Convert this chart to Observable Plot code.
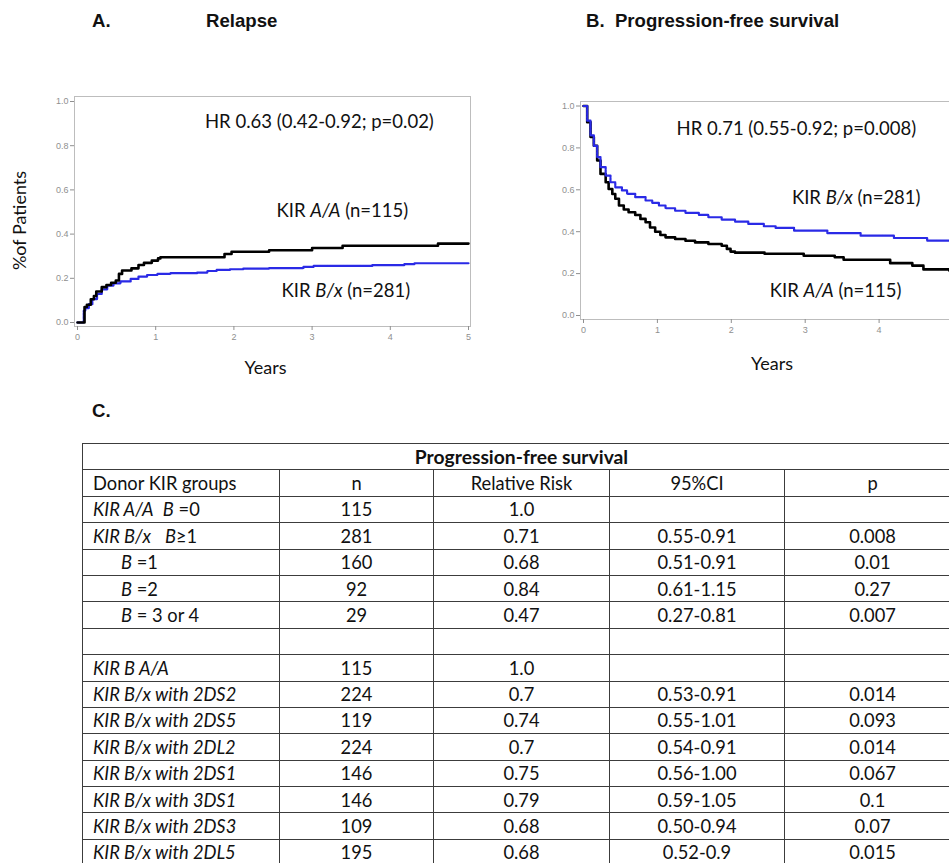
<!DOCTYPE html>
<html>
<head>
<meta charset="utf-8">
<script src="https://cdn.jsdelivr.net/npm/d3@7"></script>
<script src="https://cdn.jsdelivr.net/npm/@observablehq/plot@0.6"></script>
<style>
  html, body { margin: 0; padding: 0; background: #fff; }
  #fig { position: relative; width: 949px; height: 863px; overflow: hidden; background: #fff; }
  .ttl { position: absolute; font-family: "Liberation Sans", Arial, sans-serif; font-weight: bold; font-size: 18.6px; line-height: 18px; color: #111; white-space: pre; }
  .panel { position: absolute; top: 0; width: 480px; }
  table.kir { position: absolute; left: 82px; top: 443px; width: 878px; border-collapse: collapse; table-layout: fixed;
    font-family: Lato, "Open Sans", sans-serif; font-size: 18.3px; color: #111; }
  table.kir td { border: 1.5px solid #3c3c3c; height: 26.4px; padding: 0 10px; box-sizing: border-box; text-align: center; white-space: pre; line-height: 1; }
  table.kir td.first { text-align: left; }
  table.kir td.indent { padding-left: 38px; }
  table.kir td.title { font-weight: bold; font-size: 19.3px; }
</style>
</head>
<body>
<div id="fig">
  <div class="ttl" style="left:92px; top:11.5px;">A.</div>
  <div class="ttl" style="left:206px; top:11.5px;">Relapse</div>
  <div class="ttl" style="left:586px; top:11.5px;">B.  Progression-free survival</div>
  <div class="ttl" style="left:92px; top:402px;">C.</div>
  <div id="panelA" class="panel" style="left:0px;"></div>
  <div id="panelB" class="panel" style="left:480px;"></div>
</div>
<script>
// ---------- Panel A: cumulative incidence of relapse (years, proportion) ----------
const relapseAA = [[0,0],[0.07,0],[0.09,0.07],[0.12,0.08],[0.17,0.105],[0.21,0.12],[0.24,0.14],[0.31,0.16],[0.37,0.17],[0.43,0.18],[0.49,0.19],[0.53,0.22],[0.57,0.235],[0.69,0.245],[0.78,0.26],[0.85,0.27],[0.95,0.28],[1.03,0.29],[1.06,0.295],[1.88,0.31],[1.97,0.32],[2.45,0.327],[3.0,0.337],[3.39,0.347],[4.61,0.357],[5,0.357]];
const relapseBx = [[0,0],[0.07,0],[0.08,0.053],[0.1,0.065],[0.145,0.083],[0.19,0.106],[0.25,0.129],[0.31,0.15],[0.38,0.167],[0.46,0.177],[0.55,0.186],[0.68,0.197],[0.78,0.208],[0.89,0.215],[1.02,0.22],[1.19,0.223],[1.53,0.226],[1.66,0.233],[1.78,0.238],[1.95,0.241],[2.12,0.244],[2.45,0.246],[2.89,0.252],[3.02,0.256],[3.77,0.26],[4.18,0.264],[4.31,0.268],[5,0.268]];
// ---------- Panel B: progression-free survival ----------
const pfsAA = [[0,1],[0.05,0.923],[0.095,0.852],[0.14,0.81],[0.185,0.74],[0.23,0.676],[0.3,0.636],[0.34,0.604],[0.39,0.58],[0.43,0.557],[0.48,0.525],[0.545,0.506],[0.61,0.493],[0.7,0.48],[0.77,0.461],[0.84,0.445],[0.9,0.42],[0.97,0.4],[1.04,0.384],[1.11,0.373],[1.24,0.365],[1.38,0.357],[1.51,0.349],[1.69,0.341],[1.87,0.333],[1.94,0.318],[1.99,0.305],[2.05,0.30],[2.45,0.295],[2.98,0.285],[3.4,0.278],[3.52,0.266],[4.15,0.25],[4.45,0.238],[4.6,0.22],[4.95,0.215],[5,0.215]];
const pfsBx = [[0,1],[0.05,0.93],[0.095,0.86],[0.14,0.81],[0.185,0.756],[0.23,0.708],[0.3,0.668],[0.365,0.636],[0.43,0.612],[0.52,0.597],[0.59,0.581],[0.7,0.565],[0.84,0.549],[0.93,0.538],[1.02,0.525],[1.11,0.512],[1.24,0.5],[1.38,0.49],[1.56,0.48],[1.69,0.469],[1.87,0.458],[2.05,0.448],[2.23,0.437],[2.44,0.426],[2.6,0.418],[2.85,0.405],[3.3,0.393],[3.75,0.381],[4.2,0.37],[4.65,0.357],[5,0.357]];

const xTicks = [0, 1, 2, 3, 4, 5];
const yTicks = [0, 0.2, 0.4, 0.6, 0.8, 1.0];
const xLabel = "Years";
const yLabelA = "%of Patients";

// annotation labels anchored in data units (years, proportion); *...* = italic
const annotRelapse = [
  {label: "HR 0.63 (0.42-0.92; p=0.02)", t: 1.63, p: 0.905},
  {label: "KIR *A/A* (n=115)", t: 2.545, p: 0.502},
  {label: "KIR *B/x* (n=281)", t: 2.61, p: 0.143}
];
const annotPFS = [
  {label: "HR 0.71 (0.55-0.92; p=0.008)", t: 1.26, p: 0.892},
  {label: "KIR *B/x* (n=281)", t: 2.82, p: 0.562},
  {label: "KIR *A/A* (n=115)", t: 2.52, p: 0.115}
];

// ---------- Panel C: table ----------
const tableTitle = "Progression-free survival";
const tableHeaders = ["Donor KIR groups", "n", "Relative Risk", "95%CI", "p"];
const tableGroups = ["*KIR A/A*  *B* =0", "*KIR B/x*   *B*≥1", "*B* =1", "*B* =2", "*B* = 3 or 4", "",
  "*KIR B A/A*", "*KIR B/x with 2DS2*", "*KIR B/x with 2DS5*", "*KIR B/x with 2DL2*", "*KIR B/x with 2DS1*",
  "*KIR B/x with 3DS1*", "*KIR B/x with 2DS3*", "*KIR B/x with 2DL5*"];
const tableIndented = [false, false, true, true, true, false, false, false, false, false, false, false, false, false];
const tableN = ["115", "281", "160", "92", "29", "", "115", "224", "119", "224", "146", "146", "109", "195"];
const tableRR = ["1.0", "0.71", "0.68", "0.84", "0.47", "", "1.0", "0.7", "0.74", "0.7", "0.75", "0.79", "0.68", "0.68"];
const tableCI = ["", "0.55-0.91", "0.51-0.91", "0.61-1.15", "0.27-0.81", "", "", "0.53-0.91", "0.55-1.01", "0.54-0.91", "0.56-1.00", "0.59-1.05", "0.50-0.94", "0.52-0.9"];
const tableP = ["", "0.008", "0.01", "0.27", "0.007", "", "", "0.014", "0.093", "0.014", "0.067", "0.1", "0.07", "0.015"];

const BLACK = "#000";
const BLUE = "#2a2ae6";
const ANN_FONT = "Lato, 'Open Sans', sans-serif";

function italicize(root) {
  d3.select(root).selectAll("text").each(function() {
    const s = this.textContent;
    if (!s.includes("*")) return;
    const parts = s.split("*");
    const sel = d3.select(this);
    sel.text(null);
    parts.forEach((part, i) => {
      if (!part) return;
      const ts = sel.append("tspan").text(part);
      if (i % 2 === 1) ts.attr("font-style", "italic");
    });
  });
}

function kmPlot(cfg) {
  const marks = [
    Plot.frame({stroke: "#bdbdbd", strokeWidth: 1}),
    Plot.axisX({ticks: xTicks, tickFormat: d3.format("d"), tickSize: 4, tickPadding: cfg.xPad, fontSize: 9, color: "#8f8f8f", label: null}),
    Plot.axisY({ticks: yTicks, tickFormat: d3.format(".1f"), tickSize: 4, tickPadding: 2, fontSize: 9, color: "#8f8f8f", label: null}),
  ];
  cfg.series.forEach(s => {
    marks.push(Plot.line(s.data, {x: d => d[0], y: d => d[1], curve: "step-after", stroke: s.color, strokeWidth: s.width, strokeDasharray: s.dash, clip: true}));
  });
  marks.push(Plot.text(cfg.annot, {x: "t", y: "p", text: "label", textAnchor: "start", fontSize: 18.5, fontFamily: ANN_FONT, fill: "#111"}));
  marks.push(Plot.text([xLabel], {frameAnchor: "bottom", textAnchor: "middle", lineAnchor: "middle", dx: cfg.xLabelDx, dy: cfg.xLabelDy, fontSize: 18, fontFamily: ANN_FONT, fill: "#111"}));
  if (cfg.yLabel) {
    marks.push(Plot.text([cfg.yLabel], {frameAnchor: "left", textAnchor: "middle", lineAnchor: "middle", rotate: -90, dx: -54, dy: 9, fontSize: 18, fontFamily: ANN_FONT, fill: "#111"}));
  }
  const svg = Plot.plot({
    width: 480, height: 390,
    marginLeft: cfg.ml, marginRight: cfg.mr, marginTop: cfg.mt, marginBottom: cfg.mb,
    style: {maxWidth: "none", background: "transparent", fontFamily: "'Liberation Sans', Arial, sans-serif", overflow: "visible"},
    x: {domain: [0, 5], insetLeft: 3, insetRight: cfg.xInsetR},
    y: {domain: [0, 1], insetTop: cfg.yInsetT, insetBottom: 4},
    marks
  });
  italicize(svg);
  return svg;
}

document.getElementById("panelA").appendChild(kmPlot({
  ml: 74, mr: 10, mt: 96, mb: 64, xInsetR: 2, yInsetT: 5, xPad: 3.5,
  xLabelDx: -7, xLabelDy: 42, yLabel: yLabelA, annot: annotRelapse,
  series: [
    {data: relapseBx, color: BLUE, width: 2.2, dash: "2.5,0.8"},
    {data: relapseAA, color: BLACK, width: 2.6, dash: null}
  ]
}));

document.getElementById("panelB").appendChild(kmPlot({
  ml: 100, mr: 5, mt: 101, mb: 71, xInsetR: 2.5, yInsetT: 4.5, xPad: 3,
  xLabelDx: 4, xLabelDy: 44.6, yLabel: null, annot: annotPFS,
  series: [
    {data: pfsAA, color: BLACK, width: 2.6, dash: null},
    {data: pfsBx, color: BLUE, width: 2.2, dash: "2.5,0.8"}
  ]
}));

// ----- table -----
function richCell(td, s) {
  s.split("*").forEach((part, i) => {
    if (!part) return;
    if (i % 2 === 1) td.append("i").text(part); else td.append("span").text(part);
  });
}
const table = d3.select("#fig").append("table").attr("class", "kir");
const colgroup = table.append("colgroup");
[197, 154, 176, 175, 176].forEach(w => colgroup.append("col").style("width", w + "px"));
const tbody = table.append("tbody");
tbody.append("tr").append("td").attr("colspan", 5).attr("class", "title").text(tableTitle);
const hr = tbody.append("tr");
tableHeaders.forEach((h, i) => hr.append("td").attr("class", i === 0 ? "first" : null).text(h));
tableGroups.forEach((g, r) => {
  const tr = tbody.append("tr");
  const td0 = tr.append("td").attr("class", "first" + (tableIndented[r] ? " indent" : ""));
  richCell(td0, g);
  [tableN[r], tableRR[r], tableCI[r], tableP[r]].forEach(v => tr.append("td").text(v));
});
</script>
</body>
</html>
